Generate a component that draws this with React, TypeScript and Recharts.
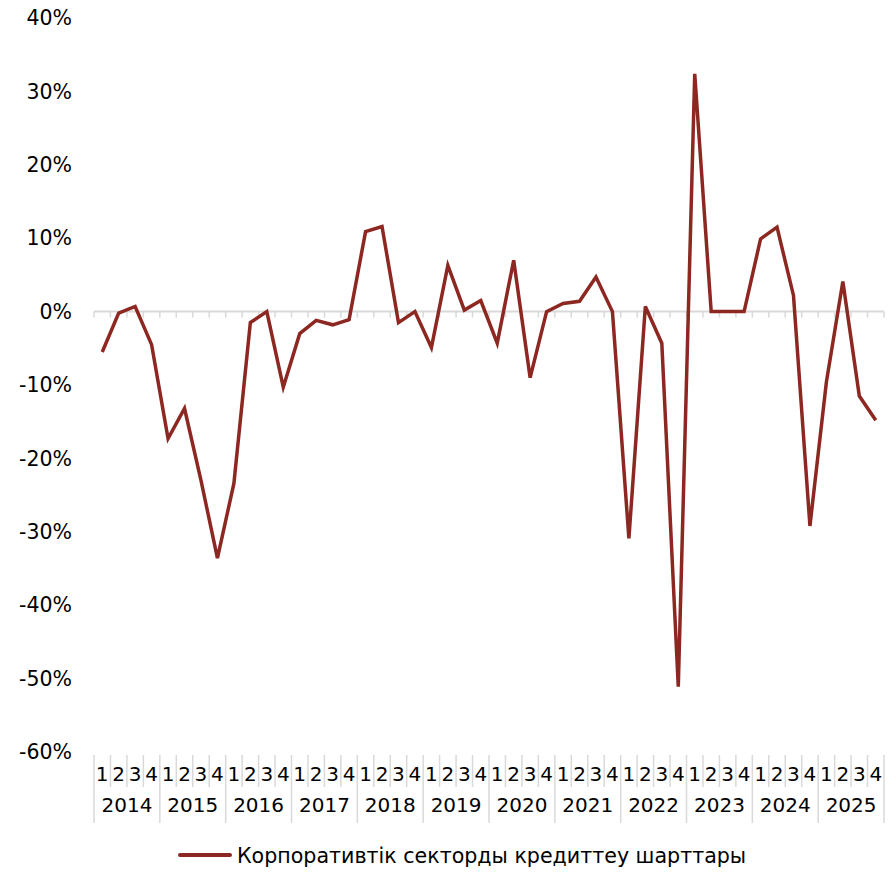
import React from 'react';
import { LineChart, Line, XAxis, YAxis, ReferenceLine, Legend } from 'recharts';

const years = ['2014', '2015', '2016', '2017', '2018', '2019', '2020', '2021', '2022', '2023', '2024', '2025'];
const quarters = ['1', '2', '3', '4'];

// квартал бойынша өзгеріс, %
const values = [
  -5.5, -0.2, 0.7, -4.5,
  -17.3, -13.2, -23.0, -33.6,
  -23.4, -1.5, 0.0, -10.3,
  -3.0, -1.2, -1.8, -1.1,
  10.9, 11.6, -1.5, 0.0,
  -4.9, 6.3, 0.2, 1.5,
  -4.3, 7.0, -9.0, 0.0,
  1.1, 1.4, 4.7, 0.0,
  -30.9, 0.7, -4.3, -51.1,
  32.4, 0.0, 0.0, 0.0,
  9.9, 11.5, 2.2, -29.2,
  -9.6, 4.1, -11.5, -14.8,
];

const yTicks = [-60, -50, -40, -30, -20, -10, 0, 10, 20, 30, 40];
const seriesName = 'Корпоративтік секторды кредиттеу шарттары';

const categories = years.flatMap(y => quarters.map(q => `${y}-${q}`));
const data = categories.map((cat, i) => ({ cat, value: values[i] }));

const FONT = '"DejaVu Sans", "Liberation Sans", Arial, sans-serif';
const GRID = '#D9D9D9';
const RED = '#8C2821';

const QuarterTick = (props: any) => {
  const { x, y, payload, index } = props;
  const half = payload && payload.offset ? payload.offset : 8.23;
  const [year, q] = String(payload.value).split('-');
  const isYearStart = index % 4 === 0;
  const isLast = index === categories.length - 1;
  return (
    <g>
      <line x1={x - half} x2={x - half} y1={y + 3} y2={isYearStart ? y + 71 : y + 35} stroke={GRID} strokeWidth={1.5} />
      {isLast && <line x1={x + half} x2={x + half} y1={y + 3} y2={y + 71} stroke={GRID} strokeWidth={1.5} />}
      <text x={x} y={y + 29} textAnchor="middle" fontSize={20} fontFamily={FONT} fill="#000">{q}</text>
      {index % 4 === 1 && (
        <text x={x + half} y={y + 60} textAnchor="middle" fontSize={20} fontFamily={FONT} fill="#000">{year}</text>
      )}
    </g>
  );
};

const ZeroAxis = (props: any) => {
  const { x1, x2, y1 } = props;
  const n = categories.length;
  const step = (x2 - x1) / n;
  const marks = [];
  for (let i = 0; i <= n; i++) {
    const xx = x1 + i * step;
    marks.push(<line key={i} x1={xx} x2={xx} y1={y1} y2={y1 + 6} stroke={GRID} strokeWidth={1.5} />);
  }
  return (
    <g>
      <line x1={x1} x2={x2} y1={y1} y2={y1} stroke={GRID} strokeWidth={2} />
      {marks}
    </g>
  );
};

const LegendBox = () => (
  <div style={{ position: 'relative', height: 40, fontFamily: FONT }}>
    <div style={{ position: 'absolute', left: 178, top: 21, width: 54, height: 4, background: RED, borderRadius: 2 }} />
    <div style={{ position: 'absolute', left: 237, top: 11, fontSize: 20.6, lineHeight: '26px', color: '#000', whiteSpace: 'nowrap' }}>
      {seriesName}
    </div>
  </div>
);

export default function App() {
  return (
    <div style={{ position: 'absolute', left: 0, top: 0, background: '#fff' }}>
      <LineChart width={896} height={872} data={data} margin={{ top: 18, right: 12, bottom: 0, left: 0 }}>
        <YAxis
          domain={[-60, 40]}
          ticks={yTicks}
          interval={0}
          tickFormatter={(v: number) => `${v}%`}
          axisLine={false}
          tickLine={false}
          tickSize={0}
          tickMargin={22}
          width={94}
          tick={{ fontSize: 20.5, fontFamily: FONT, fill: '#000' }}
        />
        <XAxis
          dataKey="cat"
          scale="band"
          interval={0}
          axisLine={false}
          tickLine={false}
          tickSize={0}
          tickMargin={0}
          height={80}
          tick={<QuarterTick />}
        />
        <ReferenceLine y={0} shape={<ZeroAxis />} />
        <Line type="linear" dataKey="value" name={seriesName} stroke={RED} strokeWidth={3.5} dot={false} isAnimationActive={false} />
        <Legend verticalAlign="bottom" height={40} content={<LegendBox />} />
      </LineChart>
    </div>
  );
}
